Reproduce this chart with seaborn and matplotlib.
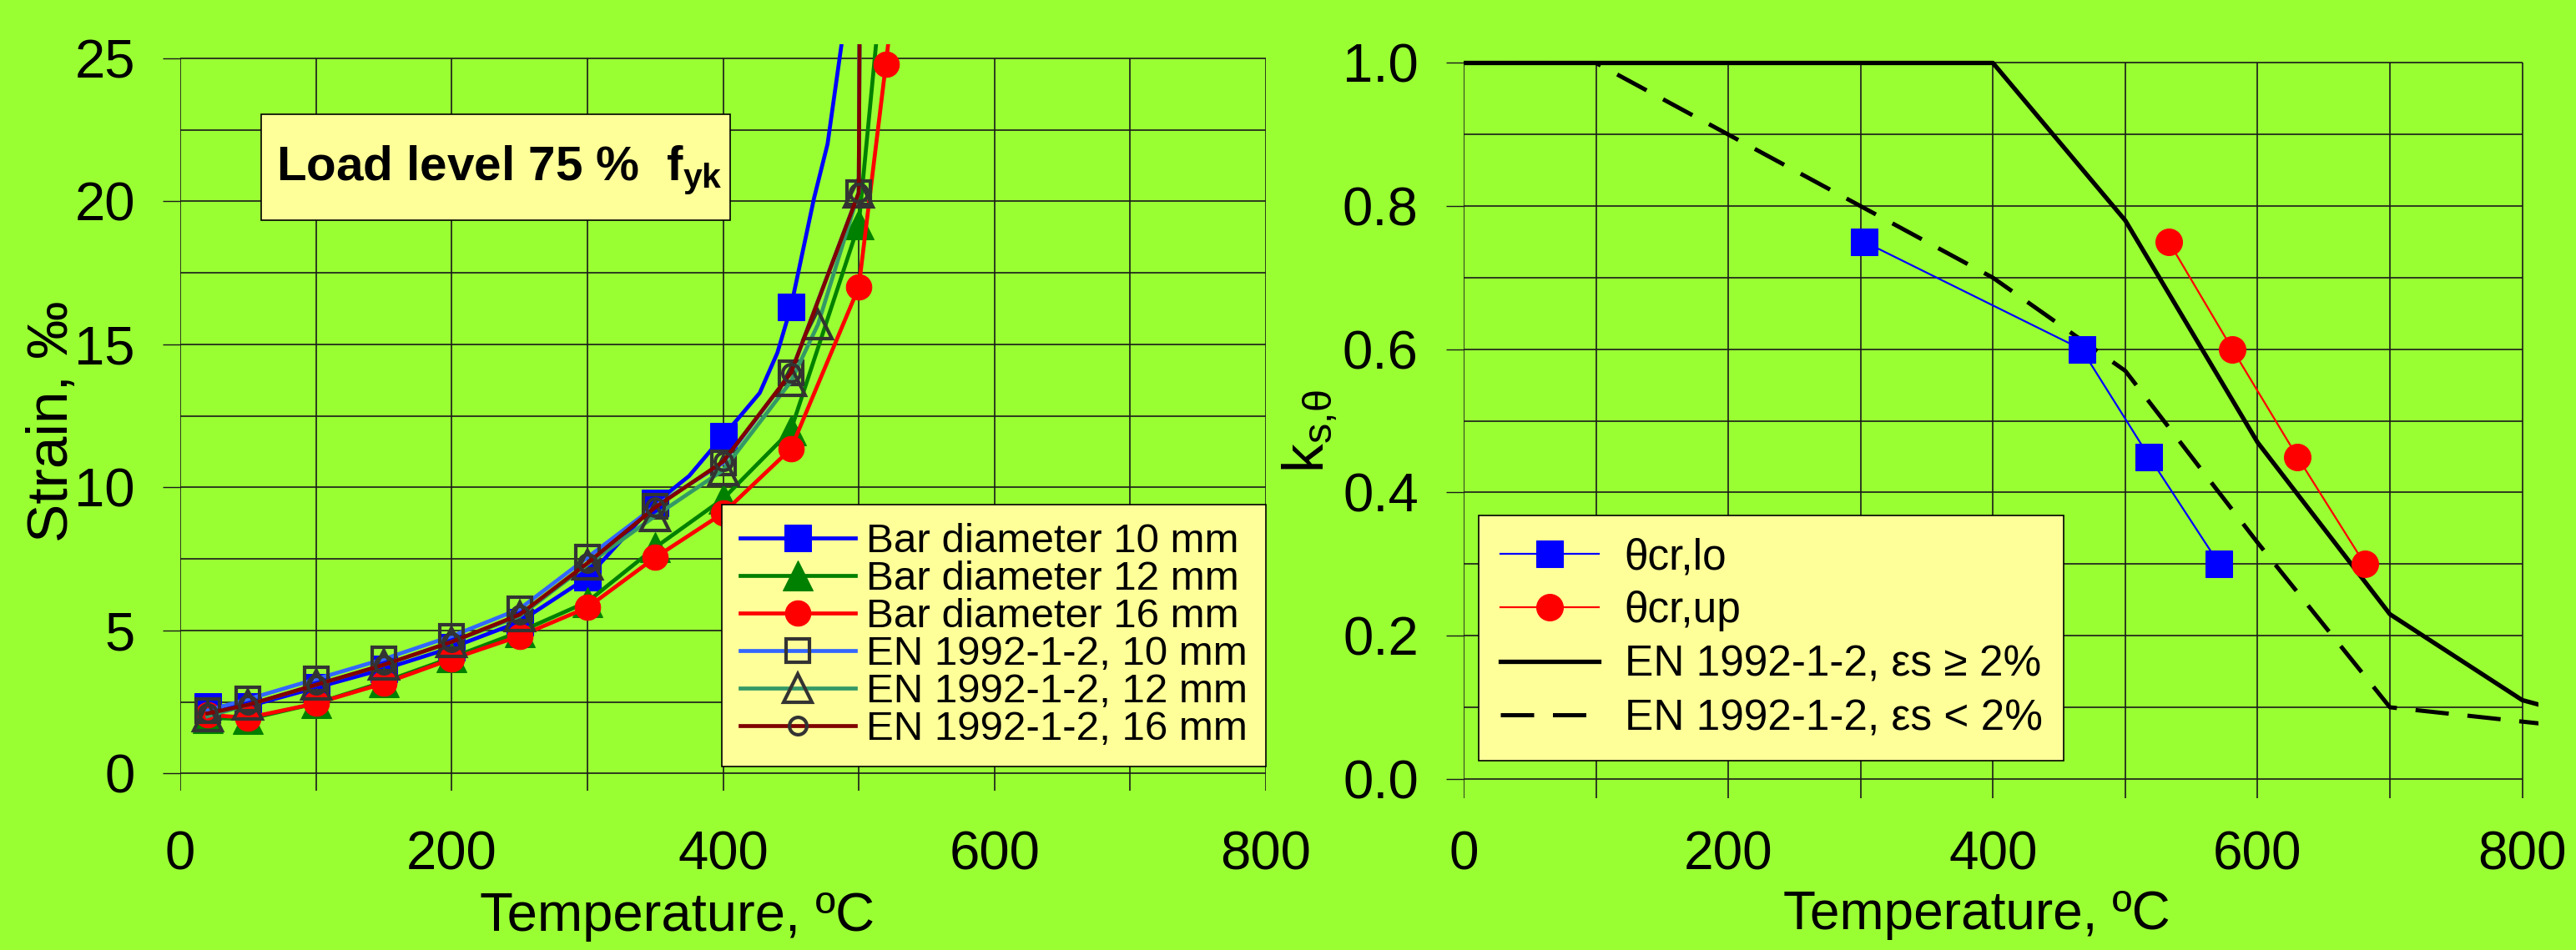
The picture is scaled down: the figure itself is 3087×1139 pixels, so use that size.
import matplotlib
matplotlib.use("Agg")
import matplotlib.pyplot as plt
import seaborn as sns

# left chart: strain vs temperature, load level 75 % fyk
temp_bar10 = [20, 50, 100, 150, 200, 250, 300, 350, 375, 400, 411, 427, 440, 450, 467, 477, 490]
strain_bar10 = [2.35, 2.35, 3.0, 3.65, 4.4, 5.3, 6.85, 9.45, 10.4, 11.8, 12.4, 13.3, 14.7, 16.3, 20.1, 22.0, 26.4]
marks_bar10 = [0, 1, 2, 3, 4, 5, 6, 7, 9, 13]
temp_bar12 = [20, 50, 100, 150, 200, 250, 300, 350, 400, 450, 500, 515]
strain_bar12 = [1.95, 1.9, 2.45, 3.2, 4.05, 4.95, 6.0, 7.9, 9.6, 12.0, 19.2, 26.6]
temp_bar16 = [20, 50, 100, 150, 200, 250, 300, 350, 400, 450, 500, 520, 530]
strain_bar16 = [2.05, 1.95, 2.45, 3.15, 4.0, 4.8, 5.8, 7.55, 9.1, 11.35, 17.0, 24.8, 29.0]
temp_en10 = [20, 50, 100, 150, 200, 250, 300, 350, 400, 450, 500, 501]
strain_en10 = [2.2, 2.6, 3.3, 4.0, 4.8, 5.75, 7.55, 9.35, 10.85, 14.0, 20.3, 30.0]
temp_en12 = [20, 50, 100, 150, 200, 250, 300, 350, 400, 450, 470, 500, 501]
strain_en12 = [2.0, 2.4, 3.1, 3.8, 4.6, 5.5, 7.3, 9.0, 10.6, 13.7, 15.7, 20.3, 30.0]
temp_en16 = [20, 50, 100, 150, 200, 250, 300, 350, 400, 450, 500, 501]
strain_en16 = [2.1, 2.4, 3.1, 3.8, 4.6, 5.55, 7.35, 9.3, 10.9, 14.0, 20.3, 30.0]

# right chart: reduction factor ks,theta
temp_en = [0, 100, 200, 300, 400, 500, 600, 700, 800, 900]
k_en_ge2 = [1.0, 1.0, 1.0, 1.0, 1.0, 0.78, 0.47, 0.23, 0.11, 0.06]
k_en_lt2 = [1.0, 1.0, 0.9, 0.8, 0.7, 0.57, 0.33, 0.1, 0.08, 0.06]
temp_cr_lo = [303, 467, 518, 571]
k_cr_lo = [0.75, 0.60, 0.45, 0.30]
temp_cr_up = [533, 581, 630, 681]
k_cr_up = [0.75, 0.60, 0.45, 0.30]

left_labels = ["Bar diameter 10 mm", "Bar diameter 12 mm", "Bar diameter 16 mm",
               "EN 1992-1-2, 10 mm", "EN 1992-1-2, 12 mm", "EN 1992-1-2, 16 mm"]
right_labels = ["\u03b8cr,lo", "\u03b8cr,up", "EN 1992-1-2, \u03b5s \u2265 2%", "EN 1992-1-2, \u03b5s < 2%"]

plt.rcParams['font.family'] = ['Liberation Sans', 'DejaVu Sans']
plt.rcParams['mathtext.fontset'] = 'custom'
plt.rcParams['mathtext.rm'] = 'Liberation Sans'
plt.rcParams['mathtext.it'] = 'Liberation Sans:italic'
plt.rcParams['mathtext.bf'] = 'Liberation Sans:bold'

BG = '#99FF33'
BOX = '#FFFF99'
GRID = '#1a1a1a'
W, H = 3087, 1139

fig = plt.figure(figsize=(W / 100, H / 100), dpi=100, facecolor=BG)
ax1 = fig.add_axes([216 / W, 1 - 948 / H, 1301 / W, 895.4 / H])
ax2 = fig.add_axes([1754 / W, 1 - 957 / H, 1287.6 / W, 885.8 / H])
for ax in (ax1, ax2):
    ax.set_facecolor(BG)
    for s in ax.spines.values():
        s.set_visible(False)

# ---- left chart
ax1.set_xlim(0, 800)
ax1.set_ylim(-0.6, 25.5)
ax1.vlines(range(0, 801, 100), -0.6, 25, colors=GRID, lw=1.2, zorder=1)
ax1.hlines([i * 2.5 for i in range(11)], 0, 800, colors=GRID, lw=1.2, zorder=1)

lw = 3.4
sns.lineplot(x=temp_bar10, y=strain_bar10, ax=ax1, color='#0000FF', lw=lw, marker='s', ms=23,
             markevery=marks_bar10, mec='#0000FF', mfc='#0000FF', label=left_labels[0], legend=False)
sns.lineplot(x=temp_bar12, y=strain_bar12, ax=ax1, color='#008000', lw=lw, marker='^', ms=26,
             mec='#008000', mfc='#008000', label=left_labels[1], legend=False)
sns.lineplot(x=temp_bar16, y=strain_bar16, ax=ax1, color='#FF0000', lw=lw, marker='o', ms=22,
             mec='#FF0000', mfc='#FF0000', label=left_labels[2], legend=False)
sns.lineplot(x=temp_en10, y=strain_en10, ax=ax1, color='#3366FF', lw=lw, marker='s', ms=20,
             mec='#333333', mfc='none', mew=3, label=left_labels[3], legend=False)
sns.lineplot(x=temp_en12, y=strain_en12, ax=ax1, color='#339966', lw=lw, marker='^', ms=24,
             mec='#333333', mfc='none', mew=3, label=left_labels[4], legend=False)
sns.lineplot(x=temp_en16, y=strain_en16, ax=ax1, color='#800000', lw=lw, marker='o', ms=15,
             mec='#333333', mfc='none', mew=3, label=left_labels[5], legend=False)

ax1.set_xticks(range(0, 801, 200))
ax1.set_xticklabels([str(t) for t in range(0, 801, 200)])
ax1.set_yticks(range(0, 26, 5))
ax1.set_yticklabels([str(t) for t in range(0, 26, 5)])
ax1.tick_params(axis='y', direction='out', length=15, width=1, color=GRID, pad=24, labelsize=47)
ax1.tick_params(axis='x', length=0, pad=34, labelsize=47)
ax1.set_xlabel("Temperature, \u00baC", fontsize=47, va='top')
ax1.xaxis.set_label_coords(0.458, -0.135)
ax1.set_ylabel("Strain, \u2030", fontsize=50)
ax1.yaxis.set_label_coords(-0.093, 0.494)

leg1 = ax1.legend(loc='upper right', bbox_to_anchor=(1.0, 0.383), borderaxespad=0, fontsize=35.5,
                  handlelength=2.8, handletextpad=0.25, labelspacing=0.0, borderpad=0.45,
                  numpoints=1, frameon=True, fancybox=False, facecolor=BOX, edgecolor='black', framealpha=1)
leg1.get_frame().set_linewidth(1.2)

# load level box
fig.add_artist(plt.Rectangle((313 / W, 1 - 264 / H), 562 / W, 127 / H, transform=fig.transFigure,
                             facecolor=BOX, edgecolor='black', lw=1.2))
fig.text(331 / W, 1 - 216 / H, "Load level 75 %  $\\mathbf{f_{yk}}$", fontsize=42, fontweight='bold',
         va='baseline', ha='left')

# ---- right chart
ax2.set_xlim(0, 812)
ax2.set_ylim(-0.027, 1.005)
ax2.vlines(range(0, 801, 100), -0.027, 1.0, colors=GRID, lw=1.2, zorder=1)
ax2.hlines([i / 10 for i in range(11)], 0, 800, colors=GRID, lw=1.2, zorder=1)

sns.lineplot(x=temp_en, y=k_en_ge2, ax=ax2, color='black', lw=3.8, label=right_labels[2], legend=False, zorder=2)
sns.lineplot(x=temp_en, y=k_en_lt2, ax=ax2, color='black', lw=3.6, ls=(0, (8, 4.5)),
             label=right_labels[3], legend=False, zorder=2)
sns.lineplot(x=temp_cr_lo, y=k_cr_lo, ax=ax2, color='#0000FF', lw=1.6, marker='s', ms=23,
             mec='#0000FF', mfc='#0000FF', label=right_labels[0], legend=False, zorder=3)
sns.lineplot(x=temp_cr_up, y=k_cr_up, ax=ax2, color='#FF0000', lw=1.6, marker='o', ms=23,
             mec='#FF0000', mfc='#FF0000', label=right_labels[1], legend=False, zorder=3)

ax2.set_xticks(range(0, 801, 200))
ax2.set_xticklabels([str(t) for t in range(0, 801, 200)])
ax2.set_yticks([i / 5 for i in range(6)])
ax2.set_yticklabels(["%.1f" % (i / 5) for i in range(6)])
ax2.tick_params(axis='y', direction='out', length=15, width=1, color=GRID, pad=24, labelsize=47)
ax2.tick_params(axis='x', length=0, pad=28, labelsize=46)
ax2.set_xlabel("Temperature, \u00baC", fontsize=46, va='top')
ax2.xaxis.set_label_coords(0.4776, -0.1242)
ax2.set_ylabel("$\\mathrm{k_{s{,}\u03b8}}$", fontsize=50)
ax2.yaxis.set_label_coords(-0.116, 0.497)

handles, labels = ax2.get_legend_handles_labels()
order = [labels.index(l) for l in right_labels]
leg2 = ax2.legend([handles[i] for i in order], right_labels, loc='lower left', bbox_to_anchor=(0.014, 0.0508),
                  borderaxespad=0, fontsize=37, handlelength=2.3, handletextpad=0.6, labelspacing=0.3,
                  borderpad=0.5, numpoints=1, frameon=True, fancybox=False, facecolor=BOX,
                  edgecolor='black', framealpha=1)
leg2.get_frame().set_linewidth(1.2)

fig.savefig("out.png", dpi=100, facecolor=BG)
